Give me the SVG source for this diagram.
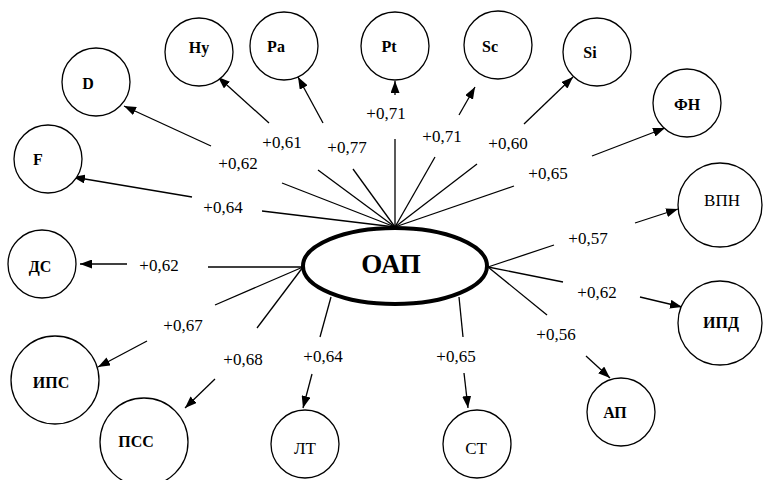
<svg xmlns="http://www.w3.org/2000/svg" width="765" height="480" viewBox="0 0 765 480">
<style>
.n circle{fill:#fff;stroke:#000;stroke-width:1.3}
.lb{font-family:'Liberation Serif','Tinos','Times New Roman','DejaVu Serif',serif;font-weight:bold;font-size:16px;text-anchor:middle}
.lr{font-family:'Liberation Serif','Tinos','Times New Roman','DejaVu Serif',serif;font-size:17px;text-anchor:middle}
.v{font-family:'Liberation Serif','Tinos','Times New Roman','DejaVu Serif',serif;font-size:17px;text-anchor:middle}
.t{font-family:'Liberation Serif','Tinos','Times New Roman','DejaVu Serif',serif;font-weight:bold;font-size:27px;text-anchor:middle}
.ln line{stroke:#000;stroke-width:1.3}
.ar line{stroke:#000;stroke-width:1.3;marker-end:url(#ah)}
</style>
<defs>
<marker id="ah" markerUnits="userSpaceOnUse" markerWidth="12" markerHeight="9" refX="12" refY="4.5" orient="auto">
<path d="M0,0 L12,4.5 L0,9 z" fill="#000"/>
</marker>
</defs>
<rect width="765" height="480" fill="#fff"/>
<g id="connectors">
<g class="ln">
<line x1="395" y1="227" x2="262" y2="211"/>
<line x1="395" y1="227" x2="282" y2="183"/>
<line x1="395" y1="227" x2="318" y2="170"/>
<line x1="395" y1="227" x2="353" y2="169"/>
<line x1="395" y1="227" x2="395" y2="139"/>
<line x1="395" y1="227" x2="435" y2="157"/>
<line x1="395" y1="227" x2="477" y2="164"/>
<line x1="395" y1="227" x2="514" y2="186"/>
<line x1="488" y1="267" x2="554" y2="245"/>
<line x1="488" y1="267" x2="563" y2="282"/>
<line x1="488" y1="267" x2="547" y2="315"/>
<line x1="459" y1="297" x2="463" y2="337"/>
<line x1="331" y1="297" x2="320" y2="337"/>
<line x1="303" y1="267" x2="208" y2="267"/>
<line x1="303" y1="267" x2="215" y2="305"/>
<line x1="303" y1="267" x2="257" y2="328"/>
</g>
<g class="ar">
<line x1="192" y1="197" x2="73" y2="177"/>
<line x1="211" y1="146" x2="124" y2="106"/>
<line x1="269" y1="123" x2="218" y2="77"/>
<line x1="323" y1="123" x2="298" y2="77"/>
<line x1="395" y1="95" x2="395" y2="81"/>
<line x1="459" y1="115" x2="475" y2="87"/>
<line x1="524" y1="124" x2="573" y2="77"/>
<line x1="592" y1="156" x2="665" y2="128"/>
<line x1="635" y1="223" x2="678" y2="209"/>
<line x1="640" y1="297" x2="682" y2="307"/>
<line x1="586" y1="356" x2="610" y2="378"/>
<line x1="464" y1="373" x2="468" y2="408"/>
<line x1="312" y1="374" x2="303" y2="408"/>
<line x1="127" y1="264" x2="80" y2="264"/>
<line x1="147" y1="341" x2="98" y2="367"/>
<line x1="215" y1="379" x2="185" y2="408"/>
</g>
<g id="values">
<text class="v" x="223" y="213">+0,64</text>
<text class="v" x="238" y="169">+0,62</text>
<text class="v" x="282" y="148">+0,61</text>
<text class="v" x="347" y="153">+0,77</text>
<text class="v" x="386" y="119">+0,71</text>
<text class="v" x="442" y="142">+0,71</text>
<text class="v" x="508" y="149">+0,60</text>
<text class="v" x="548" y="179">+0,65</text>
<text class="v" x="588" y="244">+0,57</text>
<text class="v" x="597" y="298">+0,62</text>
<text class="v" x="556" y="340">+0,56</text>
<text class="v" x="456" y="362">+0,65</text>
<text class="v" x="323" y="362">+0,64</text>
<text class="v" x="243" y="365">+0,68</text>
<text class="v" x="183" y="331">+0,67</text>
<text class="v" x="159" y="271">+0,62</text>
</g>
</g>
<g id="OAP">
<ellipse cx="395" cy="266" rx="92" ry="38" fill="#fff" stroke="#000" stroke-width="4"/>
<text class="t" x="391" y="273">ОАП</text>
</g>
<g id="D" class="n"><circle cx="96" cy="82" r="34"/><text class="lb" x="88" y="89">D</text></g>
<g id="Hy" class="n"><circle cx="199" cy="52" r="34"/><text class="lb" x="199" y="53">Hy</text></g>
<g id="Pa" class="n"><circle cx="284" cy="46" r="34"/><text class="lb" x="276" y="52">Pa</text></g>
<g id="Pt" class="n"><circle cx="395" cy="46" r="34"/><text class="lb" x="389" y="52">Pt</text></g>
<g id="Sc" class="n"><circle cx="498" cy="45" r="34"/><text class="lb" x="490" y="52">Sc</text></g>
<g id="Si" class="n"><circle cx="597" cy="52" r="34"/><text class="lb" x="590" y="58">Si</text></g>
<g id="FN" class="n"><circle cx="687" cy="103" r="34"/><text class="lb" x="687" y="110">ФН</text></g>
<g id="VPN" class="n"><circle cx="720" cy="205" r="42"/><text class="lr" x="722" y="206">ВПН</text></g>
<g id="IPD" class="n"><circle cx="720" cy="323" r="42"/><text class="lb" x="721" y="328">ИПД</text></g>
<g id="AP" class="n"><circle cx="621" cy="412" r="34"/><text class="lb" x="615" y="418">АП</text></g>
<g id="ST" class="n"><circle cx="477" cy="444" r="34"/><text class="lr" x="476" y="454">СТ</text></g>
<g id="LT" class="n"><circle cx="305" cy="444" r="34"/><text class="lr" x="305" y="454">ЛТ</text></g>
<g id="PSS" class="n"><circle cx="144" cy="442" r="44"/><text class="lb" x="136" y="447">ПСС</text></g>
<g id="IPS" class="n"><circle cx="55" cy="380" r="44"/><text class="lb" x="51" y="388">ИПС</text></g>
<g id="DS" class="n"><circle cx="42" cy="264" r="34"/><text class="lb" x="40" y="272">ДС</text></g>
<g id="F" class="n"><circle cx="48" cy="159" r="34"/><text class="lb" x="38" y="165">F</text></g>
</svg>
